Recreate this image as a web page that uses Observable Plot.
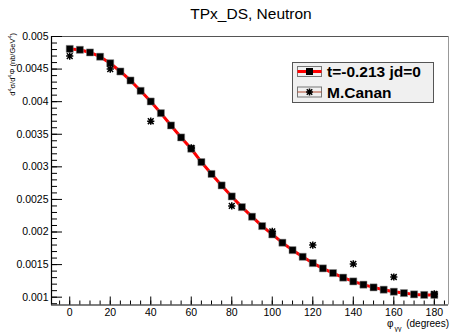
<!DOCTYPE html>
<html>
<head>
<meta charset="utf-8">
<script src="https://cdn.jsdelivr.net/npm/d3@7"></script>
<script src="https://cdn.jsdelivr.net/npm/@observablehq/plot@0.6"></script>
<style>
html,body{margin:0;padding:0;background:#fff;}
svg{display:block;}
</style>
</head>
<body>
<div id="chart"></div>
<script>
const titleText = "TPx_DS, Neutron";
const modelPhi = [0,5,10,15,20,25,30,35,40,45,50,55,60,65,70,75,80,85,90,95,100,105,110,115,120,125,130,135,140,145,150,155,160,165,170,175,180];
const modelValues = [0.00481,0.004796,0.004755,0.00469,0.00459,0.004463,0.004325,0.004167,0.004003,0.003824,0.003635,0.003451,0.003278,0.003073,0.002891,0.002715,0.002546,0.002382,0.002235,0.002091,0.001963,0.001836,0.001722,0.00162,0.001523,0.001442,0.00137,0.0013,0.001242,0.001192,0.00115,0.001115,0.001084,0.001063,0.001043,0.001035,0.001035];
const cananPhi = [0,20,40,60,80,100,120,140,160,180];
const cananValues = [0.0047,0.0045,0.0037,0.00329,0.0024,0.00201,0.0018,0.00151,0.00131,0.00105];
const xTickLabels = [0,20,40,60,80,100,120,140,160,180];
const xMinorTicks = [-5,0,5,10,15,20,25,30,35,40,45,50,55,60,65,70,75,80,85,90,95,100,105,110,115,120,125,130,135,140,145,150,155,160,165,170,175,180,185];
const yTickLabels = [0.001,0.0015,0.002,0.0025,0.003,0.0035,0.004,0.0045,0.005];
const yMinorTicks = [0.0009,0.001,0.0011,0.0012,0.0013,0.0014,0.0015,0.0016,0.0017,0.0018,0.0019,0.002,0.0021,0.0022,0.0023,0.0024,0.0025,0.0026,0.0027,0.0028,0.0029,0.003,0.0031,0.0032,0.0033,0.0034,0.0035,0.0036,0.0037,0.0038,0.0039,0.004,0.0041,0.0042,0.0043,0.0044,0.0045,0.0046,0.0047,0.0048,0.0049,0.005];
const legendLabels = ["t=-0.213 jd=0", "M.Canan"];

const model = modelPhi.map((p,i)=>({phi:p, v:modelValues[i]}));
const canan = cananPhi.map((p,i)=>({phi:p, v:cananValues[i]}));

const W = 451, H = 332;
const mL = 51, mR = 3, mT = 36, mB = 27.5;
const fw = W - mL - mR, fh = H - mT - mB;
const xDom = [-9, 187], yDom = [0.00088, 0.005];
const font = "'Liberation Sans', Arial, Helvetica, sans-serif";

// ROOT-style star marker: a "+" combined with an "x"
const rootStar = {
  draw(context, size) {
    const r = Math.sqrt(size / Math.PI);
    const d = r * 0.8;
    context.moveTo(-r, 0); context.lineTo(r, 0);
    context.moveTo(0, -r); context.lineTo(0, r);
    context.moveTo(-d, -d); context.lineTo(d, d);
    context.moveTo(-d, d); context.lineTo(d, -d);
  }
};

const chart = Plot.plot({
  width: W, height: H,
  marginLeft: mL, marginRight: mR, marginTop: mT, marginBottom: mB,
  x: {domain: xDom, axis: null},
  y: {domain: yDom, axis: null},
  style: {fontFamily: font, background: "#fff", color: "#000"},
  marks: [
    Plot.ruleY([yDom[1]], {stroke: "#555", strokeWidth: 1.2}),
    Plot.ruleX([xDom[1]], {stroke: "#999", strokeWidth: 1}),
    Plot.tickY(yMinorTicks, {y: d=>d, insetRight: fw - 6, stroke: "#000", strokeWidth: 1}),
    Plot.tickY(yTickLabels, {y: d=>d, insetRight: fw - 11, stroke: "#000", strokeWidth: 1}),
    Plot.tickX(xMinorTicks, {x: d=>d, insetTop: fh - 4, stroke: "#000", strokeWidth: 1}),
    Plot.tickX(xTickLabels, {x: d=>d, insetTop: fh - 8, stroke: "#000", strokeWidth: 1}),
    Plot.ruleX([xDom[0]], {stroke: "#000", strokeWidth: 1.2}),
    Plot.ruleY([yDom[0]], {stroke: "#000", strokeWidth: 1.2}),
    Plot.axisY({ticks: yTickLabels, tickSize: 0, tickPadding: 3, fontSize: 10.5, tickFormat: d => String(d), label: null}),
    Plot.axisX({ticks: xTickLabels, tickSize: 0, tickPadding: 4, fontSize: 10.5, tickFormat: d => String(d), label: null}),
    Plot.line(model, {x: "phi", y: "v", stroke: "#ff0000", strokeWidth: 3}),
    Plot.dot(model, {x: "phi", y: "v", symbol: "square", r: 4, fill: "#000", stroke: "#888", strokeWidth: 0.5}),
    Plot.dot(canan, {x: "phi", y: "v", symbol: rootStar, r: 3.6, stroke: "#000", strokeWidth: 1.5})
  ]
});
document.getElementById("chart").appendChild(chart);

const svg = d3.select(chart);
// Title
svg.append("text").attr("x", 251).attr("y", 19).attr("text-anchor", "middle")
  .attr("font-family", font).attr("font-size", 15.5).attr("fill", "#000").text(titleText);

// Y title
const yt = svg.append("text").attr("transform", "translate(15,33) rotate(-90)")
  .attr("text-anchor", "end").attr("font-family", font).attr("font-size", 7.5).attr("fill", "#000");
yt.append("tspan").text("d");
yt.append("tspan").attr("baseline-shift", "super").attr("font-size", 5.5).text("4");
yt.append("tspan").attr("baseline-shift", "0").text("σ/d");
yt.append("tspan").attr("baseline-shift", "super").attr("font-size", 5.5).text("4");
yt.append("tspan").attr("baseline-shift", "0").text("Φ (nb/GeV");
yt.append("tspan").attr("baseline-shift", "super").attr("font-size", 5.5).text("4");
yt.append("tspan").attr("baseline-shift", "0").text(")");

// X title
const xt = svg.append("text").attr("x", 449).attr("y", 327).attr("text-anchor", "end")
  .attr("font-family", font).attr("font-size", 10).attr("fill", "#000");
xt.append("tspan").text("φ");
xt.append("tspan").attr("baseline-shift", "sub").attr("font-size", 7).attr("dx", 1).text("γγ");
xt.append("tspan").attr("baseline-shift", "0").attr("dx", 2).text(" (degrees)");

// Legend
const lg = svg.append("g").attr("text-anchor", "start");
lg.append("rect").attr("x", 292.5).attr("y", 62.5).attr("width", 141).attr("height", 40)
  .attr("fill", "#f0f0f0").attr("stroke", "#555").attr("stroke-width", 1);
const rows = [71.5, 92];
rows.forEach((cy, i) => {
  lg.append("rect").attr("x", 297.5).attr("y", cy - 5).attr("width", 24).attr("height", 10)
    .attr("fill", "#f0f0f0").attr("stroke", "#777").attr("stroke-width", 1);
  if (i === 0) {
    lg.append("line").attr("x1", 297.5).attr("x2", 321.5).attr("y1", cy).attr("y2", cy)
      .attr("stroke", "#ff0000").attr("stroke-width", 3);
    lg.append("rect").attr("x", 306).attr("y", cy - 3.5).attr("width", 7).attr("height", 7).attr("fill", "#000");
  } else {
    lg.append("line").attr("x1", 297.5).attr("x2", 321.5).attr("y1", cy).attr("y2", cy)
      .attr("stroke", "#b04a30").attr("stroke-width", 1);
    const p = d3.path();
    rootStar.draw(p, 3.4 * 3.4 * Math.PI);
    lg.append("path").attr("transform", `translate(309.5,${cy})`)
      .attr("d", p.toString())
      .attr("stroke", "#000").attr("stroke-width", 1.5).attr("fill", "none");
  }
  lg.append("text").attr("x", 327).attr("y", cy).attr("dy", "0.36em").attr("text-anchor", "start")
    .attr("font-family", font).attr("font-size", 15.5).attr("font-weight", "bold")
    .attr("fill", "#000").text(legendLabels[i]);
});
</script>
</body>
</html>
